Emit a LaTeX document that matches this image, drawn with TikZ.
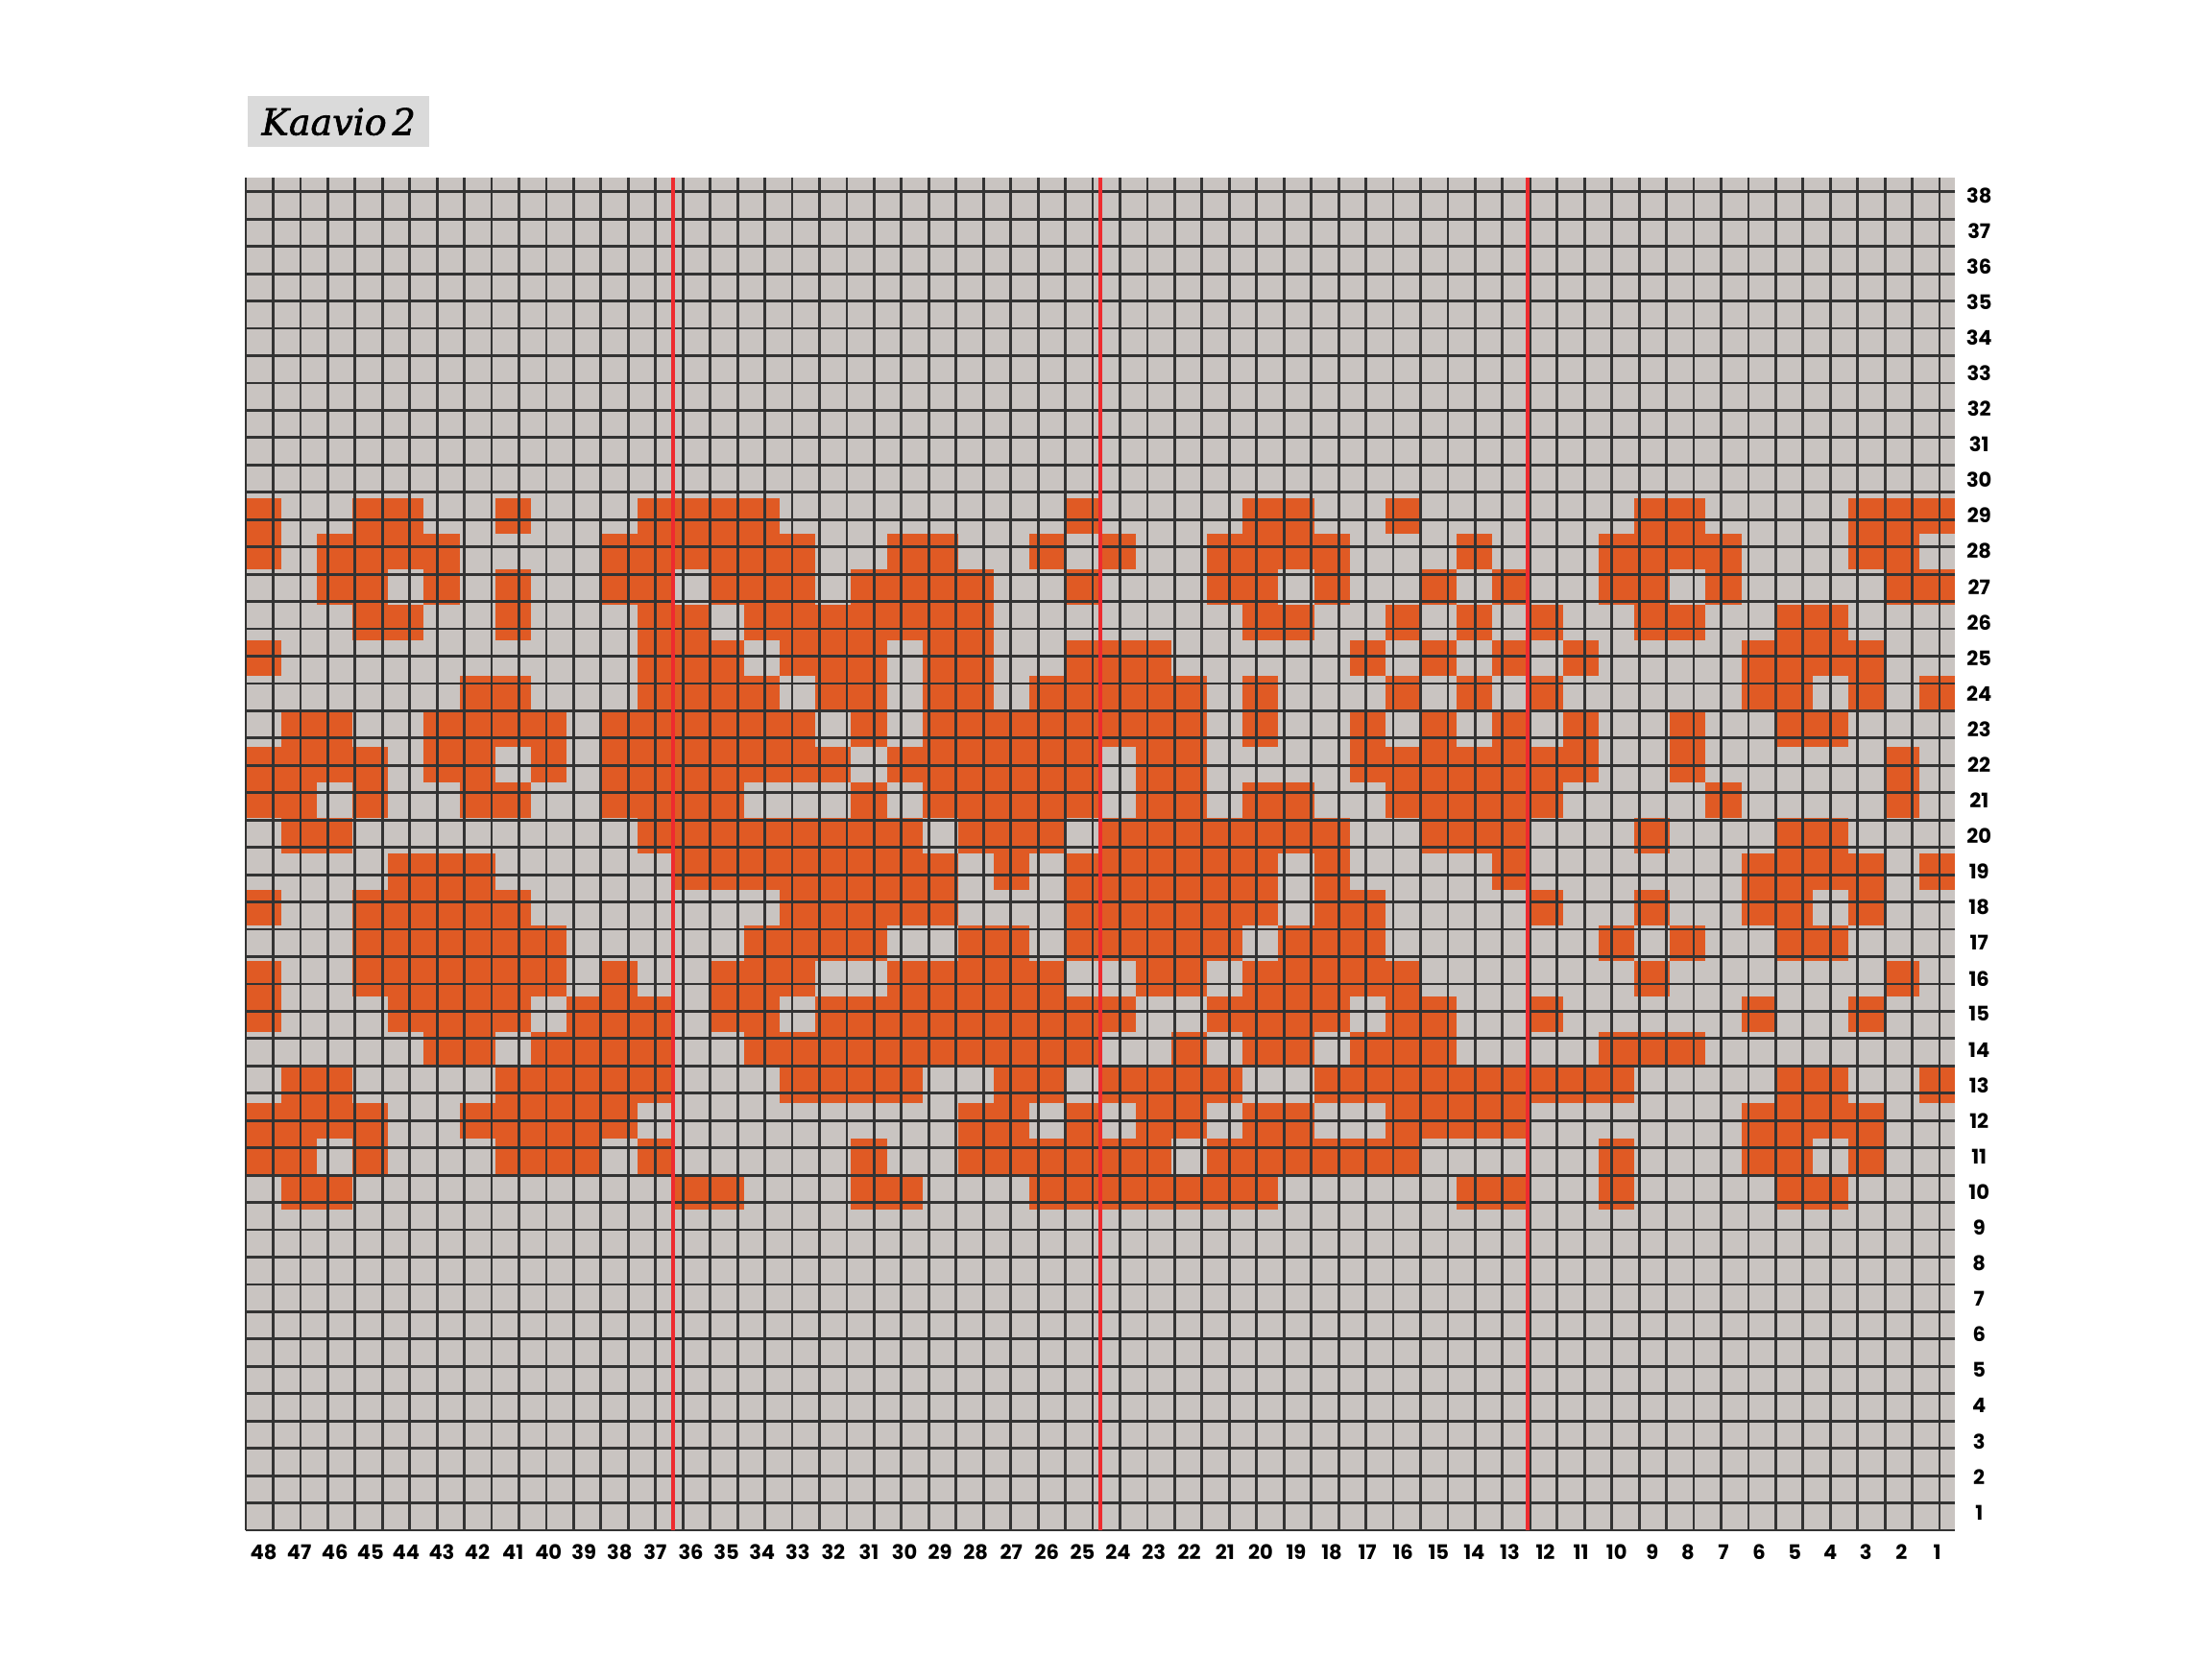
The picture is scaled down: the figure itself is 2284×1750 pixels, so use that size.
\documentclass[tikz,border=0pt]{standalone}
\usepackage{fontspec}
\setmainfont{Poppins}
\newfontfamily\titlefont[ItalicFeatures={FakeBold=1.6}]{DejaVu Serif}
\definecolor{cellgrey}{HTML}{C9C4C1}
\definecolor{knitorange}{HTML}{E05A24}
\definecolor{gridcol}{HTML}{333333}
\definecolor{redcol}{HTML}{EE2B2F}
\definecolor{titlebg}{HTML}{DADADA}
\tikzset{
  cellfill/.style={fill=knitorange},
  gridlines/.style={draw=gridcol, line width=2.8pt},
  redmark/.style={draw=redcol, line width=4pt},
  collabel/.style={inner sep=0pt, font=\fontsize{21}{22}\selectfont\bfseries},
  rowlabel/.style={inner sep=0pt, font=\fontsize{21}{22}\selectfont\bfseries},
}
\begin{document}
\begin{tikzpicture}[x=1pt,y=-1pt]
\useasboundingbox[fill=white] (0,0) rectangle (2284,1750);
\node[fill=titlebg, minimum width=189pt, minimum height=53pt, anchor=north west, inner sep=0pt] (title) at (258,100) {\titlefont\itshape\fontsize{38}{40}\selectfont Kaavio\hspace{6pt}2};
\begin{scope}[shift={(256,1594)}, x=37.083pt, y=37.083pt]
\fill[cellgrey] (0,0) rectangle (48,38);
\foreach \r/\l in {
29/{1,4,5,8,12,13,14,15,24,29,30,33,40,41,46,47,48},
28/{1,3,4,5,6,11,12,13,14,15,16,19,20,23,25,28,29,30,31,35,39,40,41,42,46,47},
27/{3,4,6,8,11,12,14,15,16,18,19,20,21,24,28,29,31,34,36,39,40,42,47,48},
26/{4,5,8,12,13,15,16,17,18,19,20,21,29,30,33,35,37,40,41,44,45},
25/{1,12,13,14,16,17,18,20,21,24,25,26,32,34,36,38,43,44,45,46},
24/{7,8,12,13,14,15,17,18,20,21,23,24,25,26,27,29,33,35,37,43,44,46,48},
23/{2,3,6,7,8,9,11,12,13,14,15,16,18,20,21,22,23,24,25,26,27,29,32,34,36,38,41,44,45},
22/{1,2,3,4,6,7,9,11,12,13,14,15,16,17,19,20,21,22,23,24,26,27,32,33,34,35,36,37,38,41,47},
21/{1,2,4,7,8,11,12,13,14,18,20,21,22,23,24,26,27,29,30,33,34,35,36,37,42,47},
20/{2,3,12,13,14,15,16,17,18,19,21,22,23,25,26,27,28,29,30,31,34,35,36,40,44,45},
19/{5,6,7,13,14,15,16,17,18,19,20,22,24,25,26,27,28,29,31,36,43,44,45,46,48},
18/{1,4,5,6,7,8,16,17,18,19,20,24,25,26,27,28,29,31,32,37,40,43,44,46},
17/{4,5,6,7,8,9,15,16,17,18,21,22,24,25,26,27,28,30,31,32,39,41,44,45},
16/{1,4,5,6,7,8,9,11,14,15,16,19,20,21,22,23,26,27,29,30,31,32,33,40,47},
15/{1,5,6,7,8,10,11,12,14,15,17,18,19,20,21,22,23,24,25,28,29,30,31,33,34,37,43,46},
14/{6,7,9,10,11,12,15,16,17,18,19,20,21,22,23,24,27,29,30,32,33,34,39,40,41},
13/{2,3,8,9,10,11,12,16,17,18,19,22,23,25,26,27,28,31,32,33,34,35,36,37,38,39,44,45,48},
12/{1,2,3,4,7,8,9,10,11,21,22,24,26,27,29,30,33,34,35,36,43,44,45,46},
11/{1,2,4,8,9,10,12,18,21,22,23,24,25,26,28,29,30,31,32,33,39,43,44,46},
10/{2,3,13,14,18,19,23,24,25,26,27,28,29,35,36,39,44,45}}{
  \foreach \c in \l {
    \fill[cellfill] (\c-1,\r-1) rectangle (\c,\r);
  }
}
\draw[gridlines] (0,0) grid (48,38);
\foreach \k in {12,24,36} {
  \draw[redmark] (\k,0) -- (\k,38);
}
\foreach \p in {1,...,48} {
  \pgfmathtruncatemacro\lab{49-\p}
  \node[collabel] (c\p) at (\p-0.5,-0.62) {\lab};
}
\foreach \r in {1,...,38} {
  \node[rowlabel] (r\r) at (48.68,\r-0.5) {\r};
}
\end{scope}
\end{tikzpicture}
\end{document}
